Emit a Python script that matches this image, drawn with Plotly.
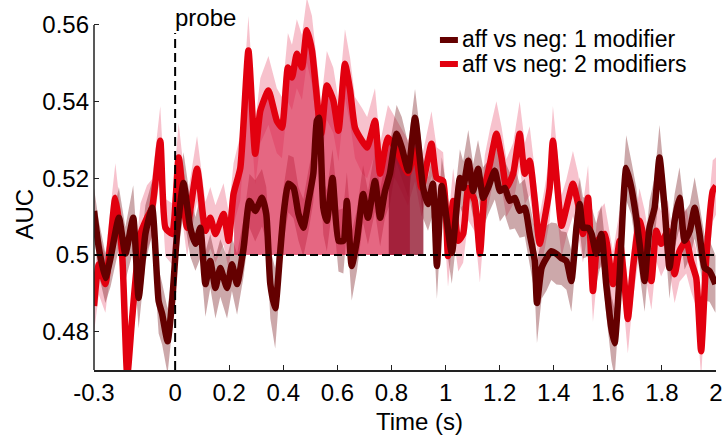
import numpy as np
import plotly.graph_objects as go

# ---------------- data ----------------
t_one = [-0.300, -0.282, -0.258, -0.239, -0.208, -0.184, -0.155, -0.135, -0.110, -0.085,
         -0.061, -0.048, -0.028, -0.011, 0.007, 0.031, 0.056, 0.075, 0.093, 0.112,
         0.130, 0.149, 0.167, 0.192, 0.210, 0.229, 0.253, 0.275, 0.296, 0.321,
         0.337, 0.352, 0.370, 0.388, 0.401, 0.419, 0.438, 0.456, 0.474, 0.493,
         0.511, 0.524, 0.532, 0.548, 0.561, 0.582, 0.604, 0.622, 0.635, 0.653,
         0.672, 0.695, 0.713, 0.739, 0.758, 0.776, 0.794, 0.819, 0.838, 0.862,
         0.887, 0.917, 0.935, 0.953, 0.968, 0.986, 1.023, 1.053, 1.065, 1.084,
         1.102, 1.120, 1.139, 1.157, 1.182, 1.201, 1.219, 1.237, 1.256, 1.274,
         1.293, 1.311, 1.330, 1.338, 1.355, 1.373, 1.391, 1.410, 1.428, 1.447,
         1.465, 1.484, 1.496, 1.508, 1.527, 1.540, 1.557, 1.576, 1.594, 1.613,
         1.625, 1.644, 1.656, 1.668, 1.687, 1.705, 1.724, 1.736, 1.754, 1.773,
         1.791, 1.810, 1.828, 1.847, 1.865, 1.884, 1.903, 1.921, 1.939, 1.958,
         1.976, 1.998]
auc_one = [0.5115, 0.5018, 0.4940, 0.4992, 0.5097, 0.5003, 0.5097, 0.4888, 0.5055, 0.5123,
           0.4880, 0.4846, 0.4775, 0.4880, 0.5055, 0.5188, 0.5071, 0.5029, 0.5071, 0.4924,
           0.4984, 0.4914, 0.4966, 0.4914, 0.4976, 0.4924, 0.5018, 0.5141, 0.5115, 0.5149,
           0.5107, 0.4924, 0.4861, 0.5003, 0.5107, 0.5186, 0.5175, 0.5107, 0.5071, 0.5141,
           0.5212, 0.5350, 0.5358, 0.5123, 0.5089, 0.5201, 0.5037, 0.5037, 0.5141, 0.4971,
           0.5037, 0.5159, 0.5097, 0.5193, 0.5097, 0.5167, 0.5212, 0.5316, 0.5280, 0.5220,
           0.5358, 0.5175, 0.5133, 0.5186, 0.4971, 0.5180, 0.5005, 0.5201, 0.5175, 0.5246,
           0.5167, 0.5225, 0.5149, 0.5175, 0.5220, 0.5167, 0.5175, 0.5141, 0.5149, 0.5115,
           0.5123, 0.5055, 0.4984, 0.4875, 0.4966, 0.4992, 0.5010, 0.5003, 0.4992, 0.4984,
           0.4932, 0.5071, 0.5133, 0.5071, 0.5071, 0.5055, 0.5003, 0.5055, 0.4924, 0.4809,
           0.4770, 0.4950, 0.5123, 0.5227, 0.5175, 0.5097, 0.4992, 0.4932, 0.5071, 0.5123,
           0.5254, 0.5123, 0.4966, 0.5089, 0.5149, 0.5037, 0.5063, 0.5123, 0.5055, 0.4966,
           0.4958, 0.4924]
sem_one = [0.0060, 0.0070, 0.0065, 0.0075, 0.0080, 0.0070, 0.0085, 0.0080, 0.0075, 0.0070,
           0.0085, 0.0080, 0.0085, 0.0075, 0.0070, 0.0080, 0.0075, 0.0070, 0.0080, 0.0085,
           0.0070, 0.0080, 0.0075, 0.0080, 0.0070, 0.0080, 0.0075, 0.0070, 0.0080, 0.0075,
           0.0070, 0.0090, 0.0105, 0.0080, 0.0070, 0.0075, 0.0080, 0.0070, 0.0075, 0.0080,
           0.0075, 0.0080, 0.0085, 0.0070, 0.0080, 0.0075, 0.0080, 0.0085, 0.0075, 0.0090,
           0.0080, 0.0075, 0.0070, 0.0080, 0.0075, 0.0070, 0.0080, 0.0075, 0.0080, 0.0070,
           0.0075, 0.0080, 0.0070, 0.0080, 0.0085, 0.0075, 0.0080, 0.0075, 0.0070, 0.0080,
           0.0070, 0.0075, 0.0080, 0.0070, 0.0075, 0.0080, 0.0070, 0.0075, 0.0080, 0.0070,
           0.0075, 0.0080, 0.0085, 0.0105, 0.0080, 0.0085, 0.0075, 0.0080, 0.0070, 0.0075,
           0.0080, 0.0075, 0.0070, 0.0080, 0.0075, 0.0070, 0.0080, 0.0075, 0.0080, 0.0085,
           0.0090, 0.0080, 0.0075, 0.0085, 0.0070, 0.0080, 0.0075, 0.0080, 0.0070, 0.0080,
           0.0085, 0.0075, 0.0080, 0.0070, 0.0080, 0.0075, 0.0070, 0.0080, 0.0075, 0.0085,
           0.0080, 0.0075]

t_two = [-0.300, -0.282, -0.258, -0.221, -0.196, -0.177, -0.159, -0.128, -0.104, -0.085,
         -0.055, -0.036, -0.011, 0.013, 0.044, 0.081, 0.112, 0.130, 0.149, 0.179,
         0.198, 0.216, 0.241, 0.271, 0.296, 0.315, 0.345, 0.376, 0.395, 0.417,
         0.432, 0.450, 0.469, 0.487, 0.506, 0.540, 0.561, 0.585, 0.604, 0.628,
         0.647, 0.665, 0.691, 0.710, 0.739, 0.758, 0.787, 0.819, 0.861, 0.887,
         0.911, 0.948, 0.967, 0.991, 1.009, 1.028, 1.047, 1.065, 1.084, 1.108,
         1.127, 1.145, 1.164, 1.188, 1.207, 1.225, 1.250, 1.274, 1.293, 1.311,
         1.330, 1.348, 1.367, 1.385, 1.397, 1.429, 1.447, 1.471, 1.490, 1.508,
         1.527, 1.545, 1.563, 1.588, 1.619, 1.644, 1.662, 1.674, 1.693, 1.717,
         1.736, 1.761, 1.779, 1.797, 1.822, 1.847, 1.865, 1.890, 1.908, 1.927,
         1.945, 1.964, 1.988, 2.000]
auc_two = [0.4867, 0.4976, 0.4924, 0.5149, 0.5003, 0.4685, 0.4835, 0.5055, 0.5097, 0.5123,
           0.5298, 0.5071, 0.5055, 0.5254, 0.5071, 0.5225, 0.5063, 0.5097, 0.5055, 0.5107,
           0.5037, 0.5159, 0.5227, 0.5533, 0.5264, 0.5376, 0.5429, 0.5350, 0.5332, 0.5489,
           0.5463, 0.5525, 0.5489, 0.5586, 0.5533, 0.5316, 0.5442, 0.5403, 0.5324, 0.5499,
           0.5429, 0.5332, 0.5298, 0.5280, 0.5350, 0.5212, 0.5306, 0.5272, 0.5214, 0.5272,
           0.5175, 0.5290, 0.5201, 0.5193, 0.4997, 0.5141, 0.5037, 0.5055, 0.5175, 0.5141,
           0.5003, 0.5175, 0.5238, 0.5316, 0.5254, 0.5175, 0.5212, 0.5316, 0.5212, 0.5246,
           0.5141, 0.5029, 0.5097, 0.5175, 0.5298, 0.5076, 0.5123, 0.5186, 0.5133, 0.5055,
           0.5149, 0.4906, 0.5037, 0.5055, 0.4924, 0.5037, 0.4924, 0.4833, 0.4966, 0.5089,
           0.5037, 0.4932, 0.5063, 0.5029, 0.5063, 0.4950, 0.5010, 0.5037, 0.4984, 0.4940,
           0.4749, 0.4992, 0.5167, 0.5180]
sem_two = [0.0070, 0.0080, 0.0075, 0.0090, 0.0075, 0.0080, 0.0075, 0.0080, 0.0085, 0.0075,
           0.0090, 0.0075, 0.0080, 0.0090, 0.0075, 0.0085, 0.0075, 0.0080, 0.0075, 0.0080,
           0.0075, 0.0080, 0.0085, 0.0090, 0.0080, 0.0085, 0.0090, 0.0085, 0.0080, 0.0090,
           0.0085, 0.0090, 0.0085, 0.0085, 0.0090, 0.0085, 0.0090, 0.0085, 0.0080, 0.0090,
           0.0085, 0.0080, 0.0085, 0.0080, 0.0085, 0.0080, 0.0085, 0.0080, 0.0085, 0.0080,
           0.0075, 0.0085, 0.0080, 0.0075, 0.0080, 0.0085, 0.0080, 0.0075, 0.0085, 0.0080,
           0.0075, 0.0085, 0.0090, 0.0085, 0.0080, 0.0075, 0.0080, 0.0085, 0.0080, 0.0090,
           0.0080, 0.0075, 0.0080, 0.0085, 0.0090, 0.0080, 0.0075, 0.0085, 0.0080, 0.0075,
           0.0085, 0.0080, 0.0075, 0.0080, 0.0085, 0.0080, 0.0085, 0.0090, 0.0080, 0.0085,
           0.0080, 0.0075, 0.0080, 0.0085, 0.0080, 0.0075, 0.0080, 0.0085, 0.0080, 0.0075,
           0.0070, 0.0075, 0.0080, 0.0075]

# significant clusters (seconds)
sig_two = [0.218, 0.868]
sig_one = [0.790, 0.918]

x_ticks = [-0.3, 0, 0.2, 0.4, 0.6, 0.8, 1.0, 1.2, 1.4, 1.6, 1.8, 2.0]
x_tick_text = ["-0.3", "0", "0.2", "0.4", "0.6", "0.8", "1", "1.2", "1.4", "1.6", "1.8", "2"]
y_ticks = [0.48, 0.5, 0.52, 0.54, 0.56]
y_tick_text = ["0.48", "0.5", "0.52", "0.54", "0.56"]
labels = ["aff vs neg: 1 modifier", "aff vs neg: 2 modifiers"]

# ---------------- styling ----------------
C_ONE = "#640000"
C_TWO = "#e2000f"
BAND_ONE = "rgba(115,15,20,0.36)"
BAND_TWO = "rgba(225,35,75,0.28)"
SIG_TWO = "rgba(215,25,65,0.66)"
SIG_ONE = "rgba(140,10,35,0.75)"
FONT = "Liberation Sans, Arial, sans-serif"
FS = 24
FS_LEG = 23
LW = 6.5

W, H = 724, 437
L, R, T, B = 93.5, 7.5, 0, 67
YR = [0.47, 0.5665]

def band(t, m, s, color):
    t = np.asarray(t); m = np.asarray(m); s = np.asarray(s)
    xs = np.concatenate([t, t[::-1]])
    ys = np.concatenate([m + s, (m - s)[::-1]])
    return go.Scatter(x=xs, y=ys, fill="toself", fillcolor=color, mode="none",
                      line=dict(width=0), hoverinfo="skip", showlegend=False)

def sig_fill(t, m, win, color):
    t = np.asarray(t); m = np.asarray(m)
    a, b = win
    inside = (t > a) & (t < b)
    xs = np.concatenate([[a], t[inside], [b]])
    ys = np.concatenate([[np.interp(a, t, m)], m[inside], [np.interp(b, t, m)]])
    xs = np.concatenate([xs, [b, a]])
    ys = np.concatenate([ys, [0.5, 0.5]])
    return go.Scatter(x=xs, y=ys, fill="toself", fillcolor=color, mode="none",
                      line=dict(width=0), hoverinfo="skip", showlegend=False)

fig = go.Figure()
fig.add_trace(band(t_two, auc_two, sem_two, BAND_TWO))
fig.add_trace(band(t_one, auc_one, sem_one, BAND_ONE))
fig.add_trace(sig_fill(t_two, auc_two, sig_two, SIG_TWO))
fig.add_trace(sig_fill(t_one, auc_one, sig_one, SIG_ONE))
fig.add_trace(go.Scatter(x=t_two, y=auc_two, mode="lines", name=labels[1],
                         line=dict(color=C_TWO, width=LW, shape="spline", smoothing=0.5),
                         showlegend=False))
fig.add_trace(go.Scatter(x=t_one, y=auc_one, mode="lines", name=labels[0],
                         line=dict(color=C_ONE, width=LW, shape="spline", smoothing=0.5),
                         showlegend=False))

pw = W - L - R
ph = H - T - B
def px(xp):
    return (xp - L) / pw
def py(yp):
    return (H - B - yp) / ph

shapes = [
    dict(type="line", xref="paper", yref="y", x0=0, x1=1, y0=0.5, y1=0.5,
         line=dict(color="black", width=2, dash="8px,4px")),
    dict(type="line", xref="x", yref="paper", x0=0, x1=0, y0=0, y1=py(33),
         line=dict(color="black", width=2, dash="9px,5px")),
    dict(type="line", xref="paper", yref="y", x0=0, x1=0, y0=YR[0], y1=0.56,
         line=dict(color="#222222", width=1.5)),
    dict(type="line", xref="paper", yref="paper", x0=px(440), x1=px(458), y0=py(40), y1=py(40),
         line=dict(color=C_ONE, width=6)),
    dict(type="line", xref="paper", yref="paper", x0=px(440), x1=px(458), y0=py(64), y1=py(64),
         line=dict(color=C_TWO, width=6)),
]

annotations = [
    dict(text="probe", xref="x", yref="paper", x=0, y=py(18), xanchor="left", yanchor="middle",
         showarrow=False, font=dict(family=FONT, size=FS, color="black"), xshift=-2),
    dict(text=labels[0], xref="paper", yref="paper", x=px(461), y=py(39), xanchor="left",
         yanchor="middle", showarrow=False, font=dict(family=FONT, size=FS_LEG, color="black"),
         borderpad=0),
    dict(text=labels[1], xref="paper", yref="paper", x=px(461), y=py(64), xanchor="left",
         yanchor="middle", showarrow=False, font=dict(family=FONT, size=FS_LEG, color="black"),
         borderpad=0),
    dict(text="Time (s)", xref="paper", yref="paper", x=px(420), y=py(421), xanchor="center",
         yanchor="middle", showarrow=False, font=dict(family=FONT, size=FS, color="black")),
    dict(text="AUC", xref="paper", yref="paper", x=px(23), y=py(214), xanchor="center",
         yanchor="middle", textangle=-90, showarrow=False,
         font=dict(family=FONT, size=FS, color="black")),
]

fig.update_layout(
    width=W, height=H,
    margin=dict(l=L, r=R, t=T, b=B, pad=0),
    paper_bgcolor="white", plot_bgcolor="white",
    showlegend=False,
    font=dict(family=FONT, size=FS, color="black"),
    shapes=shapes, annotations=annotations,
    xaxis=dict(range=[-0.3, 2.0], tickmode="array", tickvals=x_ticks, ticktext=x_tick_text,
               showline=True, linecolor="#222222", linewidth=1.5, ticks="inside", ticklen=5,
               tickcolor="#222222", tickwidth=1, showgrid=False, zeroline=False,
               tickfont=dict(family=FONT, size=FS, color="black"), ticklabelstandoff=0),
    yaxis=dict(range=YR, tickmode="array", tickvals=y_ticks, ticktext=y_tick_text,
               showline=False, ticks="inside", ticklen=5, tickcolor="#222222", tickwidth=1,
               showgrid=False, zeroline=False,
               tickfont=dict(family=FONT, size=FS, color="black"), ticklabelstandoff=4),
)

fig.write_html("out.html")
